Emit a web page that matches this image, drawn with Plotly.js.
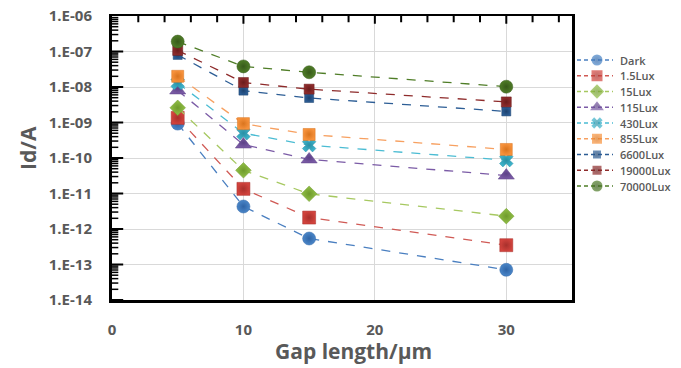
<!DOCTYPE html>
<html>
<head>
<meta charset="utf-8">
<script src="https://cdn.plot.ly/plotly-3.0.1.min.js"></script>
<style>html,body{margin:0;padding:0;background:#fff;}#chart{width:681px;height:368px;}</style>
</head>
<body>
<div id="chart"></div>
<script>
const gap = [5, 10, 15, 30];
const seriesNames = ["Dark", "1.5Lux", "15Lux", "115Lux", "430Lux", "855Lux", "6600Lux", "19000Lux", "70000Lux"];
const dark    = [9.3e-10, 4.3e-12, 5.4e-13, 7.1e-14];
const lux1_5  = [1.35e-9, 1.35e-11, 2.1e-12, 3.5e-13];
const lux15   = [2.6e-9, 4.5e-11, 9.8e-12, 2.3e-12];
const lux115  = [8.0e-9, 2.4e-10, 9.1e-11, 3.2e-11];
const lux430  = [1.3e-8, 5.0e-10, 2.3e-10, 8.7e-11];
const lux855  = [2.0e-8, 9.3e-10, 4.6e-10, 1.74e-10];
const lux6600 = [8.0e-8, 7.9e-9, 4.9e-9, 2.05e-9];
const lux19000= [1.07e-7, 1.34e-8, 8.7e-9, 3.8e-9];
const lux70000= [1.9e-7, 3.8e-8, 2.6e-8, 1.02e-8];
const xTickVals = [0, 10, 20, 30];
const xTickText = ["0", "10", "20", "30"];
const yTickVals = [1e-14, 1e-13, 1e-12, 1e-11, 1e-10, 1e-9, 1e-8, 1e-7, 1e-6];
const yTickText = ["1.E-14", "1.E-13", "1.E-12", "1.E-11", "1.E-10", "1.E-09", "1.E-08", "1.E-07", "1.E-06"];

const allY = [dark, lux1_5, lux15, lux115, lux430, lux855, lux6600, lux19000, lux70000];
const colors = ["#4a86c8", "#d2433d", "#92c047", "#7b5ba6", "#3db4cc", "#f7923c", "#2c5d95", "#8e2b2b", "#4f7d27"];
const edgeColors = ["#2f64a6", "#a8302c", "#6f9a2c", "#5d4287", "#2a8ea3", "#d9741e", "#1d426e", "#6a1c1c", "#37591a"];
const lineColors = ["#4a7fc0", "#d05a55", "#a6c860", "#7b5ba6", "#4bbcd3", "#f7a060", "#2c5d95", "#8e2b2b", "#4f7d27"];
const symbols = ["circle", "square", "diamond", "triangle-up", "x", "square", "square", "square", "circle"];
const sizes = [13, 13, 12, 14, 12, 12, 9, 10, 13];
const legSizes = [11, 11, 11, 12, 10, 10, 8, 9, 11];

const grey = "#595959";
const FONT = "Open Sans, sans-serif";

// main plot geometry (pixels)
const mL = 112, mR = 5, mT = 16, mB = 68;
const paperW = 681 - mL - mR, paperH = 368 - mT - mB;
const plotW = 460;
const mainFrac = plotW / paperW;

const traces = allY.map((ys, i) => ({
  x: gap, y: ys, name: seriesNames[i], type: "scatter", mode: "lines+markers",
  line: {color: lineColors[i], width: 1.3, dash: "dash"},
  marker: {symbol: symbols[i], size: sizes[i], color: colors[i],
           gradient: {type: "radial", color: edgeColors[i]},
           line: {color: edgeColors[i], width: 0.5}},
  showlegend: false, hoverinfo: "skip"
}));

// tick marks drawn as clipped line markers (inside the frame)
const yMajorT = [], yMinorT = [];
for (let e = -14; e < -6; e++) {
  yMajorT.push(Math.pow(10, e));
  for (let d = 2; d <= 9; d++) yMinorT.push(d * Math.pow(10, e));
}
traces.push({x: yMinorT.map(() => 0), y: yMinorT, mode: "markers", cliponaxis: true,
  marker: {symbol: "line-ew-open", size: 9, color: "#000", line: {color: "#000", width: 1.5}}, showlegend: false, hoverinfo: "skip"});
traces.push({x: yMajorT.map(() => 0), y: yMajorT, mode: "markers", cliponaxis: true,
  marker: {symbol: "line-ew-open", size: 16, color: "#000", line: {color: "#000", width: 2}}, showlegend: false, hoverinfo: "skip"});
const xMinorT = [], xMajorT = [];
for (let v = 2; v < 35; v += 2) { if (v % 10 === 0) xMajorT.push(v); else xMinorT.push(v); }
traces.push({x: xMinorT, y: xMinorT.map(() => 1), xaxis: "x2", yaxis: "y2", mode: "markers", cliponaxis: true,
  marker: {symbol: "line-ns-open", size: 9, color: "#000", line: {color: "#000", width: 2}}, showlegend: false, hoverinfo: "skip"});
traces.push({x: xMajorT, y: xMajorT.map(() => 1), xaxis: "x2", yaxis: "y2", mode: "markers", cliponaxis: true,
  marker: {symbol: "line-ns-open", size: 11, color: "#000", line: {color: "#000", width: 2}}, showlegend: false, hoverinfo: "skip"});

// legend drawn on its own small axis (x3/y3, units = pixels from legend origin)
const legTop = 44, legStep = 15.75;
const annotations = [];
seriesNames.forEach((nm, i) => {
  const yy = legTop + legStep * i;
  traces.push({
    x: [5, 25, 41], y: [yy, yy, yy], xaxis: "x3", yaxis: "y3", type: "scatter", mode: "lines+markers",
    line: {color: lineColors[i], width: 1.3, dash: "4px,3px"},
    marker: {symbol: symbols[i], size: [0, legSizes[i], 0], color: colors[i],
             gradient: {type: "radial", color: edgeColors[i]}, line: {width: 0}},
    showlegend: false, hoverinfo: "skip"
  });
  annotations.push({xref: "x3", yref: "y3", x: 46, y: yy, text: nm, showarrow: false,
    xanchor: "left", yanchor: "middle", font: {size: 11, color: grey, family: FONT, weight: 600}});
});

annotations.push({xref: "paper", yref: "paper", x: (353 - mL) / paperW, y: (300 - 351) / paperH,
  text: "Gap length/μm", showarrow: false, xanchor: "center", yanchor: "middle",
  font: {size: 21, color: grey, family: FONT, weight: "bold"}});
annotations.push({xref: "paper", yref: "paper", x: (28 - mL) / paperW, y: (300 - 148) / paperH,
  text: "Id/A", showarrow: false, xanchor: "center", yanchor: "middle", textangle: -90,
  font: {size: 21, color: grey, family: FONT, weight: "bold"}});

const layout = {
  width: 681, height: 368,
  margin: {l: mL, r: mR, t: mT, b: mB},
  paper_bgcolor: "#fff", plot_bgcolor: "rgba(0,0,0,0)",
  font: {family: FONT, color: grey},
  showlegend: false,
  annotations: annotations,
  xaxis: {
    domain: [0, mainFrac], anchor: "y",
    range: [0, 35], tickvals: xTickVals, ticktext: xTickText,
    showgrid: true, gridcolor: "#d9d9d9", gridwidth: 1, zeroline: false,
    showline: true, linecolor: "#000", linewidth: 2.5, mirror: true, ticks: "",
    tickfont: {size: 15, color: grey, family: FONT, weight: "bold"},
    ticklabelstandoff: 14
  },
  yaxis: {
    domain: [0, 1], anchor: "x",
    type: "log", range: [-14, -6], tickvals: yTickVals, ticktext: yTickText,
    showgrid: true, gridcolor: "#d9d9d9", gridwidth: 1, zeroline: false,
    showline: true, linecolor: "#000", linewidth: 3, mirror: true, ticks: "",
    tickfont: {size: 15, color: grey, family: FONT, weight: "bold"},
    ticklabelstandoff: 14
  },
  xaxis2: {
    domain: [0, mainFrac], anchor: "y2", range: [0, 35], visible: false, fixedrange: true
  },
  yaxis2: {domain: [0.9, 1], anchor: "x2", range: [0, 1], visible: false, fixedrange: true},
  xaxis3: {domain: [mainFrac, 1], range: [0, 681 - mL - plotW - mR], anchor: "y3", visible: false, fixedrange: true},
  yaxis3: {domain: [0, 1], range: [paperH, 0], anchor: "x3", visible: false, fixedrange: true}
};
Plotly.newPlot("chart", traces, layout, {displayModeBar: false, staticPlot: true});
</script>
</body>
</html>
